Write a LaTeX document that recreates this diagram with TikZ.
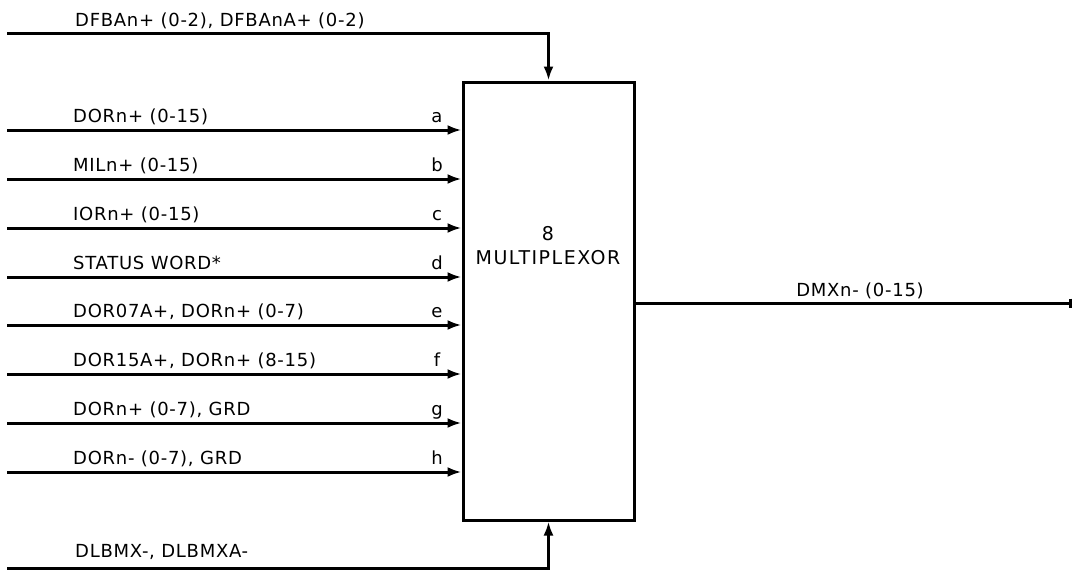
\documentclass[tikz,border=0pt]{standalone}
\usepackage{fontspec}
\setmainfont{DejaVu Sans}[LetterSpace=4]
\usetikzlibrary{arrows.meta}
\begin{document}
\begin{tikzpicture}[x=1pt,y=-1pt,
  sig/.style={line width=3pt},
  inarrow/.style={sig,-{Latex[length=14pt,width=10pt]}},
  lbl/.style={anchor=base west,inner sep=0pt,font=\fontsize{18}{20}\selectfont},
  port/.style={anchor=base,inner sep=0pt,font=\fontsize{18}{20}\selectfont},
  muxbox/.style={draw,line width=3pt,inner sep=0pt,minimum width=171pt,minimum height=438pt}]
\useasboundingbox (0,0) rectangle (1077,571);
\node[muxbox] (mux) at (548.5,301) {};
\node[align=center,inner sep=0pt,font=\fontsize{19}{24}\selectfont\addfontfeatures{LetterSpace=8}] (title) at (548,246) {8\\MULTIPLEXOR};
% top input
\coordinate (topin) at (7,33);
\node[lbl] (toplbl) at (75,26) {DFBAn+ (0-2), DFBAnA+ (0-2)};
\draw[inarrow] (topin) -| (mux.north);
% bottom input
\coordinate (botin) at (7,568);
\node[lbl] (botlbl) at (75,557) {DLBMX-, DLBMXA-};
\draw[inarrow] (botin) -| (mux.south);
% data inputs
\foreach \y/\t/\p [count=\i] in {130/{DORn+ (0-15)}/a, 179/{MILn+ (0-15)}/b, 228/{IORn+ (0-15)}/c, 277/{STATUS WORD*}/d, 325/{DOR07A+, DORn+ (0-7)}/e, 374/{DOR15A+, DORn+ (8-15)}/f, 423/{DORn+ (0-7), GRD}/g, 472/{DORn- (0-7), GRD}/h}{
  \coordinate (in\i) at (7,\y);
  \node[lbl] (lbl\i) at (73,\y-8) {\t};
  \node[port] (port\i) at (437,\y-8) {\p};
  \draw[inarrow] (in\i) -- (in\i -| mux.west);
}
% output
\coordinate (out) at (1072,303);
\node[port] (outlbl) at (860,296) {DMXn- (0-15)};
\draw[sig,-{Bar[width=9pt,line width=3pt]}] (out -| mux.east) -- (out);
\end{tikzpicture}
\end{document}
